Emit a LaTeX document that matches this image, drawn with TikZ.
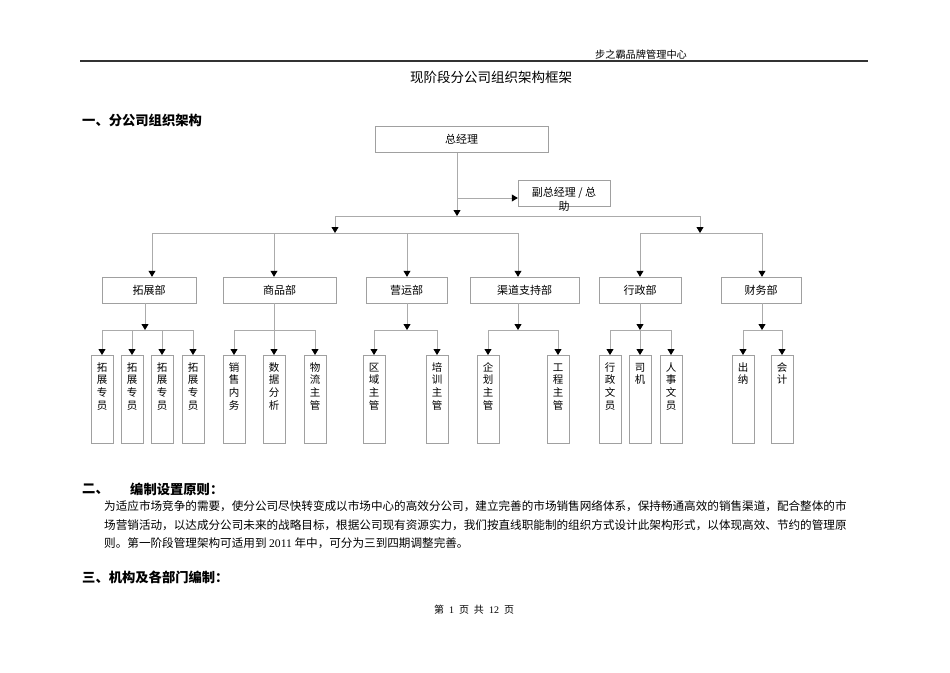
\documentclass[tikz,border=0pt]{standalone}
\usepackage{fontspec}
\setmainfont{Liberation Serif}
\newfontfamily\cjk{Noto Sans CJK SC}
\usetikzlibrary{arrows.meta}

\definecolor{linegray}{HTML}{ABABAB}
\definecolor{boxgray}{HTML}{A0A0A0}
\newcommand{\vstack}[1]{\parbox[t]{12pt}{\centering #1}}

\tikzset{
  box/.style={draw=boxgray, inner sep=0pt, minimum height=26pt, font=\cjk\fontsize{11}{13}\selectfont},
  leaf/.style={draw=boxgray, anchor=north, inner sep=0pt, minimum width=22pt,
    text height=16pt, text depth=72pt, font=\cjk\fontsize{10.5}{12.7}\selectfont},
  conn/.style={draw=linegray, line width=0.8pt},
  connarrow/.style={conn, -{Triangle[length=6pt,width=7pt,black]}},
  heading/.style={anchor=west, inner sep=0pt, font=\cjk\bfseries\fontsize{13.3}{16}\selectfont},
  body/.style={anchor=west, inner sep=0pt, font=\cjk\fontsize{11.6}{14}\selectfont}
}

\begin{document}
\begin{tikzpicture}[x=1pt,y=-1pt]
  \useasboundingbox (0,0) rectangle (950,672);

  % page head
  \node (brand) at (641,55) {\cjk\fontsize{10.2}{12}\selectfont 步之霸品牌管理中心};
  \draw[line width=1.5pt, black!80] (80,61) -- (868,61);
  \node (title) at (491,77) {\cjk\fontsize{13.5}{16}\selectfont 现阶段分公司组织架构框架};
  \node[heading] (sec1) at (82,120) {一、分公司组织架构};

  % top of the chart
  \node[box, minimum width=173pt] (gm) at (461.5,139.5) {总经理};
  \node[box, minimum width=92pt] (vice) at (564,193) {};
  \node[inner sep=0pt, align=center, font=\cjk\fontsize{11}{14}\selectfont] (vicetext) at (564,199) {副总经理 / 总\\助};

  \coordinate (trunk) at (457,216);
  \coordinate (vicejoin) at (457,198);
  \draw[conn] (gm.south -| trunk) -- (vicejoin);
  \draw[connarrow] (vicejoin) -- (vicejoin -| vice.west);
  \draw[connarrow] (vicejoin) -- (trunk);

  \coordinate (busL) at (335,216);
  \coordinate (busR) at (700,216);
  \coordinate (subL) at (335,233);
  \coordinate (subR) at (700,233);
  \draw[conn] (busL) -- (busR);
  \draw[connarrow] (busL) -- (subL);
  \draw[connarrow] (busR) -- (subR);

  % departments
  \foreach \n/\x/\w/\t in {expand/149/94/拓展部, goods/279.5/113/商品部, ops/406.5/81/营运部,
      channel/524.5/109/渠道支持部, admin/640/82/行政部, finance/761/80/财务部}
    \node[box, minimum width=\w pt] (\n) at (\x,290) {\t};

  \foreach \n/\x in {expand/152, goods/274, ops/407, channel/518, admin/640, finance/762}
    \coordinate (\n-drop) at (\x,233);
  \draw[conn] (expand-drop) -- (channel-drop);
  \draw[conn] (admin-drop) -- (finance-drop);
  \foreach \n in {expand,goods,ops,channel,admin,finance}
    \draw[connarrow] (\n-drop) -- (\n-drop |- \n.north);

  % posts
  \foreach \n/\x/\t in {e1/102/{拓\\展\\专\\员}, e2/132/{拓\\展\\专\\员}, e3/162/{拓\\展\\专\\员}, e4/193/{拓\\展\\专\\员},
      g1/234/{销\\售\\内\\务}, g2/274/{数\\据\\分\\析}, g3/315/{物\\流\\主\\管},
      o1/374/{区\\域\\主\\管}, o2/437/{培\\训\\主\\管},
      c1/488/{企\\划\\主\\管}, c2/558/{工\\程\\主\\管},
      a1/610/{行\\政\\文\\员}, a2/640/{司\\机}, a3/671/{人\\事\\文\\员},
      f1/743/{出\\纳}, f2/782/{会\\计}}
    \node[leaf] (\n) at (\x,355) {\vstack{\t}};

  \foreach \n/\x in {expand/145, goods/274, ops/407, channel/518, admin/640, finance/762}
    \coordinate (\n-hub) at (\x,330);
  \foreach \n in {expand,ops,channel,admin,finance}
    \draw[connarrow] (\n.south -| \n-hub) -- (\n-hub);
  \draw[connarrow] (goods.south -| g2.north) -- (g2.north);

  \foreach \a/\b/\d in {e1/e4/expand, g1/g3/goods, o1/o2/ops, c1/c2/channel, a1/a3/admin, f1/f2/finance}
    \draw[conn] (\a.north |- \d-hub) -- (\b.north |- \d-hub);
  \foreach \n/\d in {e1/expand, e2/expand, e3/expand, e4/expand, g1/goods, g3/goods,
      o1/ops, o2/ops, c1/channel, c2/channel, a1/admin, a2/admin, a3/admin, f1/finance, f2/finance}
    \draw[connarrow] (\n.north |- \d-hub) -- (\n.north);

  % text below the chart
  \node[heading] (sec2) at (82,489) {二、};
  \node[heading] (sec2title) at (130,489) {编制设置原则：};
  \node[body] (para1) at (104,506) {为适应市场竞争的需要，使分公司尽快转变成以市场中心的高效分公司，建立完善的市场销售网络体系，保持畅通高效的销售渠道，配合整体的市};
  \node[body] (para2) at (104,525) {场营销活动，以达成分公司未来的战略目标，根据公司现有资源实力，我们按直线职能制的组织方式设计此架构形式，以体现高效、节约的管理原};
  \node[body] (para3) at (104,543) {则。第一阶段管理架构可适用到 {\rmfamily 2011} 年中，可分为三到四期调整完善。};
  \node[heading] (sec3) at (82,577) {三、机构及各部门编制：};

  \node (footer) at (474,610) {\cjk\fontsize{10}{12}\selectfont 第\hspace{5pt}{\rmfamily 1}\hspace{5pt}页\hspace{5pt}共\hspace{5pt}{\rmfamily 12}\hspace{5pt}页};
\end{tikzpicture}
\end{document}
